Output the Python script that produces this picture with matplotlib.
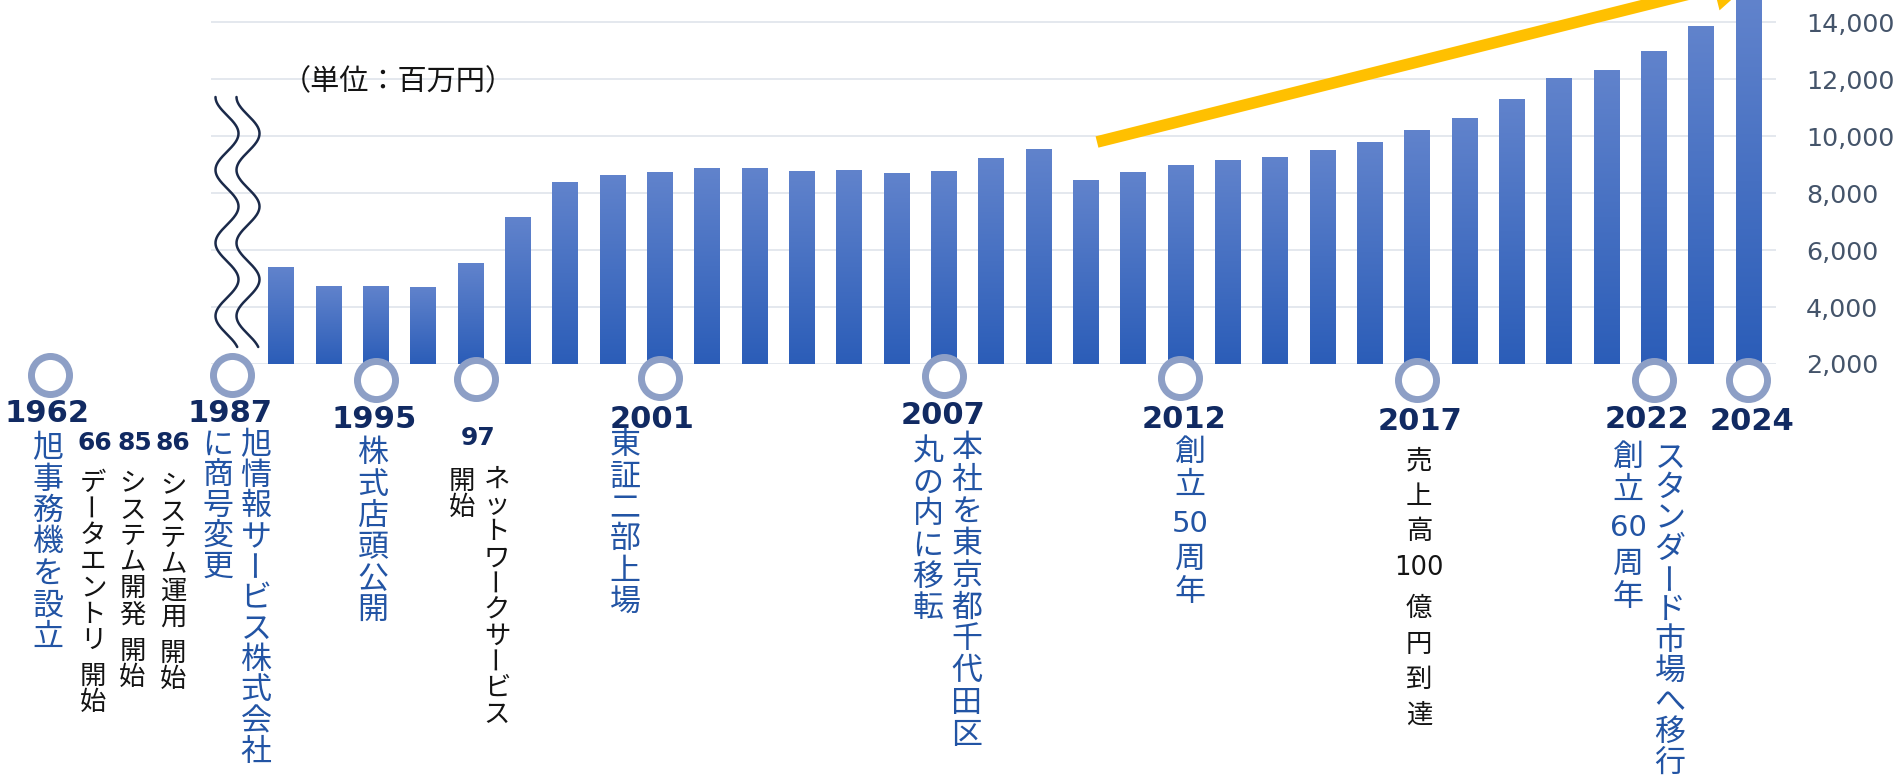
import numpy as np
import matplotlib
matplotlib.use("Agg")
import matplotlib.pyplot as plt
from matplotlib.patches import FancyArrowPatch, ArrowStyle
from matplotlib.lines import Line2D
from matplotlib.ticker import FuncFormatter

# ---------------- data ----------------
years = [1993, 1994, 1995, 1996, 1997, 1998, 1999, 2000, 2001, 2002, 2003,
         2004, 2005, 2006, 2007, 2008, 2009, 2010, 2011, 2012, 2013, 2014,
         2015, 2016, 2017, 2018, 2019, 2020, 2021, 2022, 2023, 2024]
sales = [5390, 4750, 4750, 4720, 5530, 7150, 8390, 8640, 8740, 8880, 8880,
         8780, 8810, 8700, 8780, 9230, 9550, 8460, 8740, 8990, 9170, 9270,
         9520, 9800, 10220, 10650, 11320, 12060, 12310, 12980, 13860, 14810]
y_ticks = [2000, 4000, 6000, 8000, 10000, 12000, 14000, 16000]
unit_label = "（単位：百万円）"

# milestones: circle marks on the time line (pre-1993 ones sit left of the break)
milestone_years = [1962, 1987, 1995, 1997, 2001, 2007, 2012, 2017, 2022, 2024]
milestone_labels = ["1962", "1987", "1995", "97", "2001", "2007", "2012", "2017", "2022", "2024"]
sub_labels = ["66", "85", "86"]

t1962 = "旭事務機を設立"
t1966 = "データエントリ 開始"
t1985 = "システム開発 開始"
t1986 = "システム運用 開始"
t1987a = "旭情報サービス株式会社"
t1987b = "に商号変更"
t1995 = "株式店頭公開"
t1997a = "ネットワークサービス"
t1997b = "開始"
t2001 = "東証二部上場"
t2007a = "本社を東京都千代田区"
t2007b = "丸の内に移転"
t2012 = "創立 50 周年"
t2017 = "売上高100 億円到達"
t2022a = "創立 60 周年"
t2022b = "スタンダード市場へ移行"

# ---------------- layout ----------------
W, H, DPI = 1893, 779, 100
plt.rcParams['font.family'] = ['Noto Sans CJK JP', 'DejaVu Sans']
fig = plt.figure(figsize=(W / DPI, H / DPI), dpi=DPI)

AX_L, AX_R = 211, 1776        # pixel extent of plot area
BASE_PY = 364                 # pixel row of the 2,000 gridline
PX_PER_2000 = 56.95
X0PX, STEP = 281, 47.33       # pixel centre of first bar, bar pitch
Y0, Y1 = 2000, 16000
ax_h = (Y1 - Y0) / 2000 * PX_PER_2000
ax = fig.add_axes([AX_L / W, (H - BASE_PY) / H, (AX_R - AX_L) / W, ax_h / H])

def px_x(px):
    return (px - X0PX) / STEP

def px_y(py):
    return Y0 + (BASE_PY - py) * 2000 / PX_PER_2000

xpos = np.array(years) - years[0]
bars = ax.bar(xpos, np.array(sales) - Y0, bottom=Y0, width=0.53,
              color='#3F6CC4', zorder=2, linewidth=0)

top_c = np.array([97, 131, 204]) / 255
bot_c = np.array([43, 93, 184]) / 255
tt = np.linspace(0, 1, 256)[:, None, None]
grad = top_c[None, None, :] * (1 - tt) + bot_c[None, None, :] * tt
for b in bars:
    x0, w, yb, hh = b.get_x(), b.get_width(), b.get_y(), b.get_height()
    im = ax.imshow(grad, extent=(x0, x0 + w, yb, yb + hh), origin='upper',
                   aspect='auto', interpolation='bilinear', zorder=2.1)
    im.set_clip_path(b)

ax.set_xlim(px_x(AX_L), px_x(AX_R))
ax.set_ylim(Y0, Y1)
ax.set_yticks(y_ticks)
ax.yaxis.set_major_formatter(FuncFormatter(lambda v, p: f"{int(v):,}"))
ax.yaxis.tick_right()
ax.set_xticks([])
ax.yaxis.grid(True, color='#DCE1E9', linewidth=1.1)
ax.set_axisbelow(True)
ax.tick_params(axis='y', length=0, pad=21.5, labelsize=18.3,
               labelcolor='#44546A', labelfontfamily='DejaVu Sans')
for s in ax.spines.values():
    s.set_visible(False)
ax.patch.set_alpha(0)

# ---- trend arrow ----
arrow = FancyArrowPatch((px_x(1097), px_y(142)), (px_x(1757), px_y(-23)),
                        arrowstyle=ArrowStyle.Simple(head_length=32, head_width=33.5, tail_width=8.4),
                        mutation_scale=1, facecolor='#FFC000', edgecolor='none',
                        shrinkA=0, shrinkB=0, zorder=4, clip_on=False)
ax.add_patch(arrow)

# ---- milestone circles ----
circle_x = [px_x(50), px_x(232)] + [y - years[0] for y in milestone_years[2:]]
circle_py = [375, 375, 380, 379, 378, 376, 378, 380, 380, 380]
circle_x[3] += 0.12
ax.plot(circle_x, [px_y(p) for p in circle_py], linestyle='none', marker='o',
        markersize=27.4, markerfacecolor='white', markeredgecolor='#8D9FC6',
        markeredgewidth=5.0, zorder=5, clip_on=False)

# ---- break symbol (two wavy lines) ----
yy = np.linspace(97, 347, 300)
for off in (0, 21):
    xx = 227 + off - 11.5 * np.cos(2 * np.pi * (yy - 97) / 73)
    fig.add_artist(Line2D(xx / W, 1 - yy / H, color='#1B2A4A', linewidth=1.8,
                          solid_capstyle='round'))

# ---- texts ----
NAVY = '#112A62'
BLUE = '#2254A4'
BLACK = '#141414'
LATIN = 'DejaVu Sans'

def ftext(px, py, s, **kw):
    fig.text(px / W, 1 - py / H, s, ha='center', va='center', **kw)

def tokens(s):
    out, buf = [], ''
    for ch in s:
        if ch.isdigit() and ch.isascii():
            buf += ch
        else:
            if buf:
                out.append(buf); buf = ''
            out.append(ch)
    if buf:
        out.append(buf)
    return out

def vtext(s, px, top, pitch, size, color, gap=None, numsize=None):
    y = top
    em = size * DPI / 72
    for u in tokens(s):
        if u == ' ':
            y += gap if gap is not None else pitch * 0.4
            continue
        cy = y + pitch / 2 - 2
        if u.isdigit():
            ftext(px, cy + 1, u, fontsize=numsize or size, color=color, family=LATIN)
        elif u == 'ー':
            # long-vowel mark turns upright in vertical writing
            ftext(px, cy - 0.2 * em, u, fontsize=size, color=color, rotation=90)
        else:
            ftext(px, cy, u, fontsize=size, color=color)
        y += pitch

ftext(398, 82, unit_label, fontsize=21, color=BLACK)

year_pos = [(47.5, 414), (230, 413), (374, 420), (478, 438), (652, 420),
            (943, 415), (1184, 419), (1420, 421), (1647, 419), (1752, 421)]
for (px, py), lab in zip(year_pos, milestone_labels):
    size = 18 if len(lab) == 2 else 22
    ftext(px, py, lab, fontsize=size, fontweight='bold', color=NAVY, family=LATIN)
for px, lab in zip([95, 134.5, 173], sub_labels):
    ftext(px, 443, lab, fontsize=18, fontweight='bold', color=NAVY, family=LATIN)

vtext(t1962, 48, 435, 31.4, 22.3, BLUE)
vtext(t1966, 93, 472, 26.2, 19, BLACK, gap=10)
vtext(t1985, 132.5, 473, 26.2, 19, BLACK, gap=10)
vtext(t1986, 173, 475, 26.2, 19, BLACK, gap=10)
vtext(t1987a, 256, 432, 30.7, 22.3, BLUE)
vtext(t1987b, 218, 432, 30.4, 22.3, BLUE)
vtext(t1995, 373, 440, 31.4, 22.3, BLUE)
vtext(t1997a, 497, 468, 26.2, 19, BLACK)
vtext(t1997b, 462, 470, 26.5, 19, BLACK)
vtext(t2001, 625, 432, 31.4, 22.3, BLUE)
vtext(t2007a, 967, 435, 31.8, 22.3, BLUE)
vtext(t2007b, 928, 438, 31.4, 22.3, BLUE)
vtext(t2012, 1190, 438, 33, 22.3, BLUE, gap=4, numsize=21)
vtext(t2017, 1419, 445, 35.5, 19, BLACK, gap=6, numsize=18.5)
vtext(t2022a, 1628, 443, 33, 22.3, BLUE, gap=4, numsize=21)
vtext(t2022b, 1670, 445, 30.5, 22.3, BLUE)

fig.savefig("out.png", dpi=DPI)
